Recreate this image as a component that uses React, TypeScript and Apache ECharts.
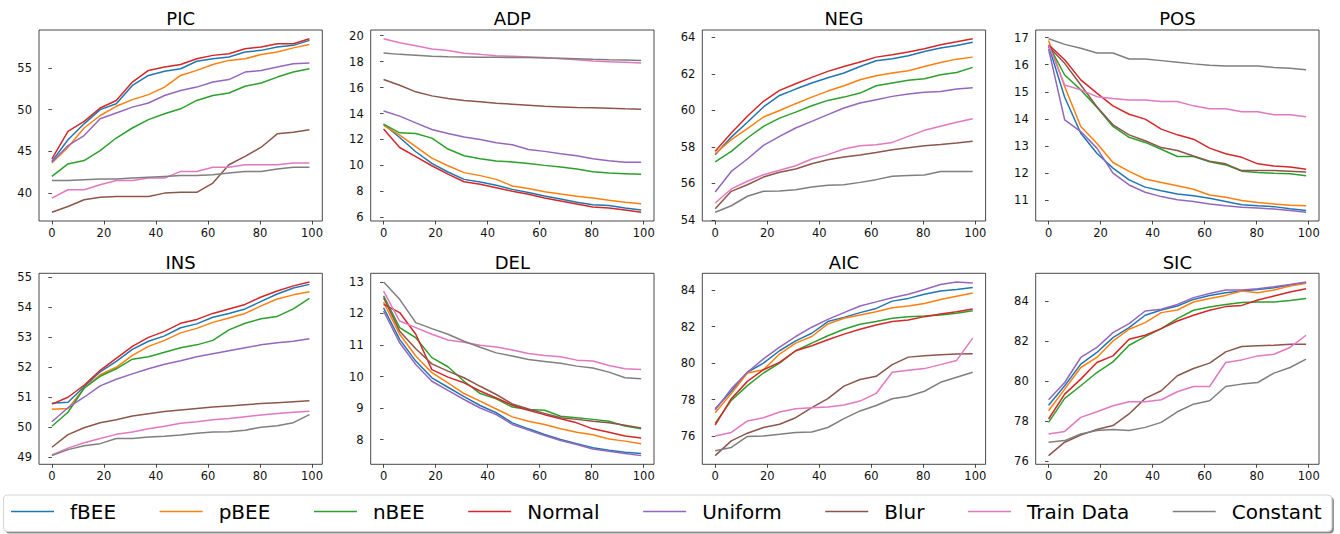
import React, { useEffect, useRef } from "react";
import * as echarts from "echarts";

// ---------- data ----------
const STEPS = [0, 6.19, 12.38, 18.56, 24.75, 30.94, 37.13, 43.31, 49.5, 55.69, 61.88, 68.06, 74.25, 80.44, 86.63, 92.81, 99];
const SERIES_NAMES = ["fBEE", "pBEE", "nBEE", "Normal", "Uniform", "Blur", "Train Data", "Constant"];
const PANEL_TITLES = ["PIC", "ADP", "NEG", "POS", "INS", "DEL", "AIC", "SIC"];
const X_TICKS = [0, 20, 40, 60, 80, 100];

// rows: fBEE, pBEE, nBEE, Normal, Uniform, Blur, Train Data, Constant
const PIC = [
  [43.8, 46.4, 48.3, 50.0, 50.7, 52.9, 54.1, 54.6, 54.9, 55.8, 56.1, 56.3, 56.9, 57.1, 57.5, 57.7, 58.3],
  [43.6, 45.5, 47.8, 49.3, 50.4, 51.2, 51.8, 52.7, 54.1, 54.7, 55.4, 55.9, 56.1, 56.6, 56.9, 57.4, 57.8],
  [42.0, 43.5, 43.9, 45.1, 46.6, 47.8, 48.8, 49.5, 50.1, 51.1, 51.7, 52.0, 52.8, 53.2, 53.9, 54.5, 54.9],
  [44.1, 47.4, 48.6, 50.2, 51.1, 53.3, 54.7, 55.1, 55.4, 56.1, 56.5, 56.7, 57.3, 57.5, 57.9, 57.9, 58.5],
  [43.7, 45.7, 46.9, 48.9, 49.6, 50.3, 50.8, 51.7, 52.3, 52.7, 53.3, 53.6, 54.5, 54.7, 55.1, 55.5, 55.6],
  [37.7, 38.4, 39.2, 39.5, 39.6, 39.6, 39.6, 40.0, 40.1, 40.1, 41.2, 43.4, 44.4, 45.5, 47.1, 47.3, 47.6],
  [39.4, 40.4, 40.4, 41.0, 41.5, 41.5, 41.8, 41.8, 42.6, 42.6, 43.1, 43.1, 43.4, 43.4, 43.4, 43.6, 43.6],
  [41.5, 41.5, 41.6, 41.7, 41.7, 41.8, 41.9, 42.0, 42.1, 42.1, 42.2, 42.4, 42.6, 42.6, 42.9, 43.1, 43.1],
];
const ADP = [
  [13.18, 12.15, 11.05, 10.15, 9.49, 8.92, 8.72, 8.46, 8.15, 7.9, 7.64, 7.41, 7.15, 6.97, 6.9, 6.72, 6.56],
  [13.08, 12.33, 11.44, 10.56, 9.97, 9.44, 9.21, 8.92, 8.41, 8.21, 7.97, 7.79, 7.62, 7.49, 7.31, 7.15, 7.05],
  [13.18, 12.51, 12.46, 12.1, 11.26, 10.74, 10.51, 10.33, 10.26, 10.15, 10.0, 9.87, 9.72, 9.51, 9.41, 9.36, 9.31],
  [12.8, 11.38, 10.67, 9.97, 9.33, 8.74, 8.54, 8.28, 8.0, 7.77, 7.49, 7.26, 7.03, 6.79, 6.72, 6.56, 6.38],
  [14.2, 13.8, 13.28, 12.77, 12.46, 12.18, 12.0, 11.74, 11.59, 11.23, 11.08, 10.9, 10.74, 10.51, 10.36, 10.25, 10.24],
  [16.62, 16.18, 15.67, 15.36, 15.15, 15.0, 14.9, 14.79, 14.72, 14.64, 14.56, 14.51, 14.46, 14.44, 14.41, 14.36, 14.33],
  [19.77, 19.46, 19.23, 18.97, 18.85, 18.64, 18.56, 18.46, 18.41, 18.36, 18.31, 18.23, 18.15, 18.05, 18.0, 17.95, 17.9],
  [18.67, 18.56, 18.49, 18.41, 18.38, 18.36, 18.33, 18.33, 18.31, 18.31, 18.28, 18.26, 18.23, 18.18, 18.15, 18.13, 18.08],
];
const NEG = [
  [57.58, 58.54, 59.35, 60.19, 60.82, 61.17, 61.5, 61.79, 62.05, 62.41, 62.72, 62.83, 63.0, 63.23, 63.42, 63.56, 63.74],
  [57.63, 58.4, 59.0, 59.64, 60.0, 60.37, 60.73, 61.06, 61.35, 61.68, 61.9, 62.05, 62.17, 62.41, 62.63, 62.81, 62.92],
  [57.18, 57.76, 58.49, 59.13, 59.58, 59.91, 60.26, 60.55, 60.73, 60.95, 61.35, 61.5, 61.65, 61.74, 61.96, 62.08, 62.36],
  [57.76, 58.76, 59.68, 60.5, 61.1, 61.46, 61.81, 62.14, 62.41, 62.65, 62.92, 63.05, 63.2, 63.38, 63.6, 63.76, 63.93],
  [55.53, 56.66, 57.34, 58.09, 58.58, 59.04, 59.4, 59.77, 60.13, 60.41, 60.59, 60.77, 60.9, 61.0, 61.04, 61.17, 61.24],
  [54.62, 55.57, 55.93, 56.35, 56.61, 56.79, 57.08, 57.3, 57.45, 57.56, 57.7, 57.85, 57.96, 58.07, 58.14, 58.22, 58.31],
  [54.93, 55.7, 56.12, 56.48, 56.72, 56.97, 57.34, 57.58, 57.89, 58.07, 58.12, 58.25, 58.58, 58.91, 59.13, 59.35, 59.55],
  [54.42, 54.78, 55.3, 55.57, 55.59, 55.66, 55.81, 55.9, 55.93, 56.06, 56.21, 56.39, 56.43, 56.46, 56.66, 56.66, 56.66],
];
const POS = [
  [16.7, 14.8, 13.47, 12.73, 12.18, 11.75, 11.48, 11.35, 11.23, 11.16, 11.07, 10.95, 10.83, 10.79, 10.76, 10.68, 10.62],
  [16.89, 15.19, 13.72, 13.1, 12.39, 12.06, 11.78, 11.65, 11.53, 11.4, 11.19, 11.11, 10.99, 10.91, 10.86, 10.81, 10.79],
  [16.73, 15.62, 15.07, 14.43, 13.72, 13.32, 13.13, 12.88, 12.61, 12.61, 12.42, 12.3, 12.07, 12.02, 11.99, 11.97, 11.9],
  [16.73, 16.18, 15.44, 14.95, 14.48, 14.17, 13.99, 13.62, 13.41, 13.25, 12.92, 12.71, 12.58, 12.34, 12.26, 12.22, 12.14],
  [16.58, 13.96, 13.53, 12.92, 12.0, 11.56, 11.29, 11.13, 11.01, 10.95, 10.86, 10.79, 10.74, 10.71, 10.67, 10.62, 10.55],
  [16.67, 16.05, 15.25, 14.45, 13.78, 13.41, 13.19, 12.94, 12.83, 12.63, 12.44, 12.34, 12.09, 12.09, 12.09, 12.07, 12.04],
  [16.73, 15.25, 15.07, 14.82, 14.75, 14.7, 14.7, 14.64, 14.64, 14.48, 14.37, 14.37, 14.26, 14.26, 14.15, 14.15, 14.08],
  [16.96, 16.75, 16.61, 16.43, 16.43, 16.21, 16.21, 16.15, 16.09, 16.03, 15.98, 15.95, 15.95, 15.95, 15.9, 15.87, 15.81],
];
const INS = [
  [50.8, 50.83, 51.35, 51.85, 52.2, 52.6, 52.87, 53.05, 53.32, 53.45, 53.67, 53.8, 53.95, 54.2, 54.45, 54.65, 54.77],
  [50.6, 50.62, 51.3, 51.75, 52.0, 52.4, 52.7, 52.9, 53.15, 53.3, 53.5, 53.65, 53.8, 54.05, 54.28, 54.42, 54.52],
  [50.03, 50.5, 51.3, 51.7, 51.95, 52.27, 52.35, 52.5, 52.65, 52.75, 52.9, 53.25, 53.47, 53.62, 53.7, 53.95, 54.3],
  [50.77, 51.0, 51.4, 51.9, 52.3, 52.7, 53.0, 53.2, 53.47, 53.6, 53.8, 53.95, 54.1, 54.35, 54.55, 54.72, 54.85],
  [50.18, 50.65, 51.0, 51.38, 51.6, 51.78, 51.95, 52.1, 52.22, 52.35, 52.45, 52.55, 52.65, 52.75, 52.82, 52.87, 52.95],
  [49.33, 49.75, 49.98, 50.15, 50.25, 50.37, 50.45, 50.52, 50.57, 50.62, 50.67, 50.71, 50.75, 50.79, 50.82, 50.85, 50.88],
  [49.07, 49.3, 49.48, 49.62, 49.76, 49.84, 49.95, 50.03, 50.13, 50.18, 50.25, 50.29, 50.35, 50.41, 50.46, 50.5, 50.53],
  [49.05, 49.25, 49.38, 49.45, 49.62, 49.62, 49.67, 49.7, 49.74, 49.8, 49.84, 49.85, 49.9, 50.0, 50.05, 50.15, 50.42],
];
const DEL = [
  [12.18, 11.18, 10.49, 9.96, 9.66, 9.36, 9.08, 8.85, 8.53, 8.34, 8.16, 8.0, 7.87, 7.74, 7.66, 7.6, 7.56],
  [12.36, 11.34, 10.65, 10.12, 9.8, 9.46, 9.22, 8.97, 8.72, 8.58, 8.48, 8.34, 8.23, 8.15, 8.02, 7.95, 7.87],
  [12.56, 11.55, 11.23, 10.6, 10.31, 9.85, 9.46, 9.29, 9.03, 8.95, 8.93, 8.74, 8.69, 8.64, 8.58, 8.43, 8.34],
  [12.29, 12.03, 11.34, 10.22, 9.98, 9.8, 9.54, 9.32, 9.09, 8.93, 8.79, 8.66, 8.53, 8.34, 8.23, 8.11, 8.05],
  [12.08, 11.07, 10.38, 9.85, 9.56, 9.27, 9.0, 8.79, 8.48, 8.3, 8.13, 7.97, 7.84, 7.7, 7.63, 7.56, 7.49],
  [12.5, 11.44, 10.88, 10.4, 10.17, 9.96, 9.69, 9.43, 9.13, 8.97, 8.83, 8.69, 8.64, 8.58, 8.53, 8.45, 8.37],
  [12.71, 11.76, 11.55, 11.34, 11.16, 11.09, 10.99, 10.94, 10.84, 10.73, 10.67, 10.63, 10.52, 10.49, 10.35, 10.25, 10.22],
  [13.0, 12.45, 11.71, 11.52, 11.34, 11.12, 10.93, 10.75, 10.65, 10.54, 10.48, 10.42, 10.33, 10.27, 10.14, 9.96, 9.93],
];
const AIC = [
  [77.5, 78.46, 79.5, 80.0, 80.68, 81.22, 81.64, 82.28, 82.51, 82.77, 83.0, 83.4, 83.55, 83.78, 83.96, 84.04, 84.15],
  [77.28, 78.34, 79.46, 79.64, 80.5, 81.1, 81.46, 82.15, 82.46, 82.64, 82.82, 83.04, 83.13, 83.27, 83.49, 83.67, 83.85],
  [76.7, 77.96, 78.77, 79.46, 80.0, 80.68, 81.1, 81.5, 81.86, 82.13, 82.28, 82.46, 82.55, 82.58, 82.64, 82.73, 82.87],
  [76.6, 78.05, 79.0, 79.64, 80.04, 80.68, 80.95, 81.28, 81.59, 81.86, 82.09, 82.28, 82.37, 82.55, 82.69, 82.82, 82.97],
  [77.43, 78.59, 79.5, 80.23, 80.88, 81.46, 81.97, 82.4, 82.77, 83.13, 83.36, 83.58, 83.78, 84.04, 84.31, 84.45, 84.4],
  [74.93, 75.74, 76.16, 76.47, 76.65, 77.01, 77.56, 78.05, 78.74, 79.1, 79.28, 79.92, 80.33, 80.41, 80.46, 80.5, 80.52],
  [76.01, 76.2, 76.83, 77.01, 77.32, 77.5, 77.56, 77.59, 77.7, 77.92, 78.34, 79.5, 79.61, 79.7, 79.92, 80.15, 81.37],
  [75.2, 75.38, 75.98, 76.01, 76.1, 76.2, 76.23, 76.47, 76.96, 77.38, 77.68, 78.05, 78.19, 78.46, 78.95, 79.23, 79.5],
];
const SIC = [
  [78.8, 79.77, 80.85, 81.43, 82.17, 82.67, 83.29, 83.55, 83.75, 84.08, 84.28, 84.41, 84.5, 84.58, 84.66, 84.8, 84.91],
  [78.52, 79.6, 80.68, 81.18, 82.0, 82.59, 82.92, 83.42, 83.55, 83.95, 84.12, 84.28, 84.5, 84.41, 84.55, 84.75, 84.88],
  [77.94, 79.14, 79.77, 80.43, 80.96, 81.79, 82.22, 82.62, 83.12, 83.54, 83.7, 83.83, 83.92, 83.95, 83.95, 84.03, 84.12],
  [78.11, 79.35, 80.1, 80.93, 81.26, 82.09, 82.29, 82.62, 83.0, 83.29, 83.54, 83.72, 83.78, 84.05, 84.25, 84.45, 84.61],
  [79.07, 79.93, 81.18, 81.68, 82.42, 82.87, 83.5, 83.59, 83.83, 84.17, 84.37, 84.55, 84.55, 84.61, 84.71, 84.83, 84.95],
  [76.28, 76.95, 77.31, 77.58, 77.78, 78.36, 79.14, 79.52, 80.27, 80.63, 80.9, 81.46, 81.73, 81.76, 81.79, 81.84, 81.84],
  [77.36, 77.49, 78.19, 78.47, 78.77, 78.97, 78.97, 79.07, 79.47, 79.73, 79.73, 80.93, 81.06, 81.26, 81.34, 81.68, 82.29],
  [76.95, 77.03, 77.36, 77.53, 77.58, 77.53, 77.69, 77.94, 78.47, 78.85, 79.02, 79.73, 79.85, 79.93, 80.4, 80.68, 81.1],
];
const PANEL_DATA = [PIC, ADP, NEG, POS, INS, DEL, AIC, SIC];

const PIC_TICKS = [40, 45, 50, 55];
const ADP_TICKS = [6, 8, 10, 12, 14, 16, 18, 20];
const NEG_TICKS = [54, 56, 58, 60, 62, 64];
const POS_TICKS = [11, 12, 13, 14, 15, 16, 17];
const INS_TICKS = [49, 50, 51, 52, 53, 54, 55];
const DEL_TICKS = [8, 9, 10, 11, 12, 13];
const AIC_TICKS = [76, 78, 80, 82, 84];
const SIC_TICKS = [76, 78, 80, 82, 84];
const PANEL_TICKS = [PIC_TICKS, ADP_TICKS, NEG_TICKS, POS_TICKS, INS_TICKS, DEL_TICKS, AIC_TICKS, SIC_TICKS];

// ---------- styles / layout ----------
const COLORS = ["#1f77b4", "#ff7f0e", "#2ca02c", "#d62728", "#9467bd", "#8c564b", "#e377c2", "#7f7f7f"];
const COL_LEFT = [39, 370.7, 702.3, 1035.7];
const ROW_TOP = [30, 273.3];
const PANEL_W = 283.3;
const PANEL_H = 191;
const TITLE_Y = [18.5, 262.5];
const FONT = "DejaVu Sans";

function buildOption() {
  const grids: any[] = [];
  const xAxes: any[] = [];
  const yAxes: any[] = [];
  const series: any[] = [];
  const graphics: any[] = [];

  // legend frame (shadow + box)
  graphics.push({
    type: "rect",
    z: 0,
    shape: { x: 5.5, y: 497, width: 1328.4, height: 36.4, r: 4 },
    style: { fill: "#8c8c8c" },
  });
  graphics.push({
    type: "rect",
    z: 1,
    shape: { x: 3.5, y: 495, width: 1328.4, height: 36.4, r: 4 },
    style: { fill: "#ffffff", stroke: "#d4d4d4", lineWidth: 1 },
  });

  PANEL_DATA.forEach((panel, p) => {
    const row = Math.floor(p / 4);
    const col = p % 4;
    const left = COL_LEFT[col];
    const top = ROW_TOP[row];
    grids.push({
      left,
      top,
      width: PANEL_W,
      height: PANEL_H,
      containLabel: false,
      outerBoundsMode: "none",
      show: true,
      borderColor: "#1a1a1a",
      borderWidth: 0.8,
      backgroundColor: "transparent",
    });
    let lo = Infinity;
    let hi = -Infinity;
    panel.forEach((s) => s.forEach((v) => { lo = Math.min(lo, v); hi = Math.max(hi, v); }));
    const pad = (hi - lo) * 0.05;
    xAxes.push({
      type: "value",
      gridIndex: p,
      min: -4.95,
      max: 103.95,
      axisLine: { show: false },
      splitLine: { show: false },
      axisTick: { show: true, length: 3.5, inside: false, customValues: X_TICKS, lineStyle: { color: "#1a1a1a", width: 0.8 } },
      axisLabel: { show: true, customValues: X_TICKS, margin: 6, color: "#111", fontSize: 11.5, fontFamily: FONT },
    });
    yAxes.push({
      type: "value",
      gridIndex: p,
      min: lo - pad,
      max: hi + pad,
      axisLine: { show: false },
      splitLine: { show: false },
      axisTick: { show: true, length: 3.5, inside: false, customValues: PANEL_TICKS[p], lineStyle: { color: "#1a1a1a", width: 0.8 } },
      axisLabel: { show: true, customValues: PANEL_TICKS[p], margin: 7, color: "#111", fontSize: 11.5, fontFamily: FONT },
    });
    panel.forEach((vals, s) => {
      series.push({
        type: "line",
        name: SERIES_NAMES[s],
        xAxisIndex: p,
        yAxisIndex: p,
        data: STEPS.map((x, i) => [x, vals[i]]),
        symbol: "none",
        showSymbol: false,
        lineStyle: { color: COLORS[s], width: 1.5 },
        itemStyle: { color: COLORS[s] },
        emphasis: { disabled: true },
        z: 2 + s * 0.01,
      });
    });
    graphics.push({
      type: "text",
      x: left + PANEL_W / 2,
      y: TITLE_Y[row],
      style: {
        text: PANEL_TITLES[p],
        align: "center",
        verticalAlign: "middle",
        fill: "#000",
        font: `18px "${FONT}"`,
      },
    });
  });

  return {
    animation: false,
    backgroundColor: "#ffffff",
    color: COLORS,
    grid: grids,
    xAxis: xAxes,
    yAxis: yAxes,
    series,
    graphic: { elements: graphics },
    legend: {
      show: true,
      z: 10,
      left: 11,
      top: 501.5,
      orient: "horizontal",
      padding: 0,
      icon: "rect",
      itemWidth: 43,
      itemHeight: 1.6,
      itemGap: 43.6,
      data: SERIES_NAMES,
      selectedMode: false,
      textStyle: {
        fontFamily: FONT,
        fontSize: 20,
        lineHeight: 20,
        color: "#000",
        padding: [0, 0, 0, 11],
      },
    },
  };
}

export default function App() {
  const ref = useRef<HTMLDivElement>(null);
  useEffect(() => {
    document.body.style.margin = "0";
    if (!ref.current) return;
    const chart = echarts.init(ref.current, undefined, { renderer: "svg" });
    chart.setOption(buildOption() as any);
    return () => chart.dispose();
  }, []);
  return (
    <div
      ref={ref}
      style={{ position: "absolute", left: 0, top: 0, width: 1340, height: 534, background: "#fff" }}
    />
  );
}
